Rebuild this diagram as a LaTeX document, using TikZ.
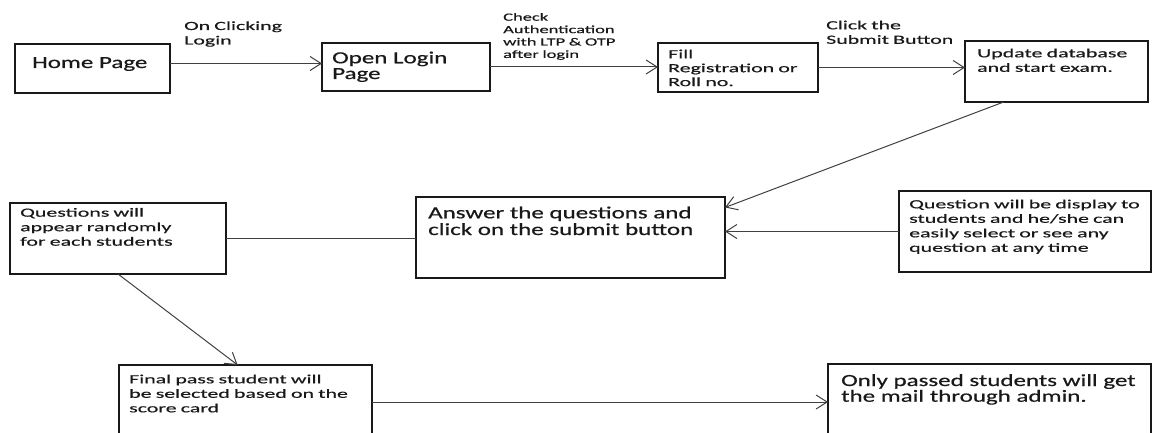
\documentclass[tikz,border=0pt]{standalone}
\usepackage{fontspec}
\setmainfont{Carlito}
\newfontfamily\fA{Carlito}[FakeStretch=1.47,FakeBold=0.6]
\newfontfamily\fB{Carlito}[FakeStretch=1.75,FakeBold=0.5]
\newfontfamily\fC{Carlito}[FakeStretch=1.68,FakeBold=0.5]
\usetikzlibrary{arrows.meta}
\begin{document}
\begin{tikzpicture}[x=1pt,y=-1pt,
  box/.style={draw=black!90, line width=1.2pt, anchor=north west, inner sep=0pt, outer sep=0pt},
  txt/.style={anchor=base west, inner sep=0pt, text width=320pt, align=left, text=black!90},
  fontA/.style={font=\fA\fontsize{17}{#1}\selectfont},
  fontB/.style={font=\fB\fontsize{12.5}{#1}\selectfont},
  fontB/.default=14.5,
  fontC/.style={font=\fC\fontsize{11}{12.4}\selectfont},
  arr/.style={draw=black!75, line width=1pt, -{Straight Barb[length=11pt,width=14pt]}},
  conn/.style={draw=black!75, line width=1pt}]
\useasboundingbox (0,0) rectangle (1152,433);
\clip (0,0) rectangle (1152,433);

% boxes
\node[box, minimum width=155, minimum height=49] (home) at (15,44) {};
\node[box, minimum width=168, minimum height=48] (open) at (322,43) {};
\node[box, minimum width=160, minimum height=49] (fill) at (658,43) {};
\node[box, minimum width=183, minimum height=61] (upd) at (965,41) {};
\node[box, minimum width=309, minimum height=81] (ans) at (416,197) {};
\node[box, minimum width=252, minimum height=81] (qbox) at (899,191) {};
\node[box, minimum width=216, minimum height=71] (qs) at (10,203) {};
\node[box, minimum width=253, minimum height=74] (fin) at (119,365) {};
\node[box, minimum width=323, minimum height=76] (only) at (828,364) {};

% texts
\node[txt, fontA=16] (thome) at (32,68) {Home Page};
\node[txt, fontA=15.7] (topen) at (332,63.3) {Open Login\\Page};
\node[txt, fontB=13.9] (tfill) at (668,58.3) {Fill\\Registration or\\Roll no.};
\node[txt, fontB] (tupd) at (977,57.3) {Update database\\and start exam.};
\node[txt, fontA=16.7] (tans) at (428,218.3) {Answer the questions and\\click on the submit button};
\node[txt, fontB] (tq) at (909,208.3) {Question will be display to\\students and he/she can\\easily select or see any\\question at any time};
\node[txt, fontB] (tqs) at (20,216.7) {Questions will\\appear randomly\\for each students};
\node[txt, fontB] (tfin) at (129,383.3) {Final pass student will\\be selected based on the\\score card};
\node[txt, fontA=14.7] (tonly) at (841,386) {Only passed students will get\\the mail through admin.};

% connector labels
\node[txt, fontB] (l1) at (184,30) {On Clicking\\Login};
\node[txt, fontC] (l2) at (503,20.7) {Check\\Authentication\\with LTP \& OTP\\after login};
\node[txt, fontB] (l3) at (826,29.3) {Click the\\Submit Button};

% connectors
\draw[arr] ([yshift=5pt]home.east) -- ([yshift=5pt]home.east -| open.west);
\draw[arr] (open.east) -- (open.east -| fill.west);
\draw[arr] (fill.east) -- (fill.east -| upd.west);
\draw[arr] (upd.210) -- (ans.11);
\draw[arr] (qbox.west) -- (qbox.west -| ans.east);
\draw[conn] (qs.east) -- (qs.east -| ans.west);
\draw[arr] (qs.south) -- (fin.102);
\draw[arr] (fin.east) -- (only.west);
\end{tikzpicture}
\end{document}
